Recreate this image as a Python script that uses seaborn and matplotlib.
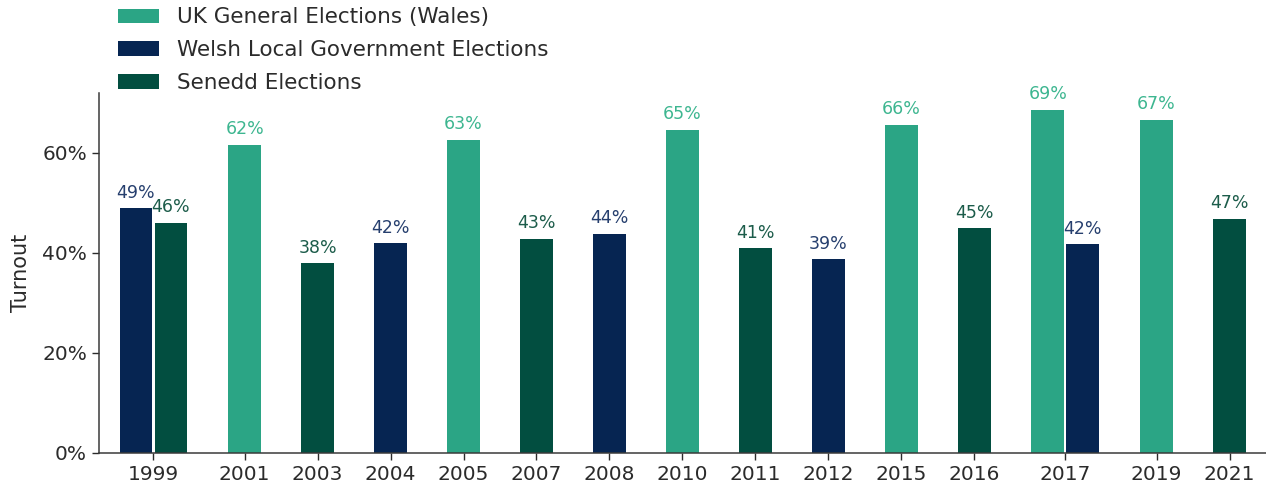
import numpy as np
import pandas as pd
import matplotlib
matplotlib.use("Agg")
import matplotlib.pyplot as plt
import matplotlib.ticker as mticker
import seaborn as sns

# ─── data ────────────────────────────────────────────────────────────────────
years = ["1999", "2001", "2003", "2004", "2005", "2007", "2008", "2010",
         "2011", "2012", "2015", "2016", "2017", "2019", "2021"]

series_names = ["UK General Elections (Wales)",
                "Welsh Local Government Elections",
                "Senedd Elections"]

uk_years = ["2001", "2005", "2010", "2015", "2017", "2019"]
uk_turnout = [61.6, 62.6, 64.7, 65.6, 68.6, 66.6]

local_years = ["1999", "2004", "2008", "2012", "2017"]
local_turnout = [48.9, 41.9, 43.8, 38.7, 41.7]

senedd_years = ["1999", "2003", "2007", "2011", "2016", "2021"]
senedd_turnout = [46.0, 37.9, 42.8, 40.9, 44.9, 46.8]

# ─── style ───────────────────────────────────────────────────────────────────
BAR_COLORS = {series_names[0]: "#2ba585",
              series_names[1]: "#062552",
              series_names[2]: "#024e40"}
LABEL_COLORS = {series_names[0]: "#3db690",
                series_names[1]: "#263f6e",
                series_names[2]: "#1c5c4a"}
INK = "#2b2b2b"

sns.set_theme(style="ticks")
plt.rcParams["font.family"] = ["DejaVu Sans"]

# ─── layout: one slot per bar-year, wider slot where two bars share a year ──
rows = []
for name, yrs, vals in [(series_names[0], uk_years, uk_turnout),
                        (series_names[1], local_years, local_turnout),
                        (series_names[2], senedd_years, senedd_turnout)]:
    for y, v in zip(yrs, vals):
        rows.append({"year": y, "series": name, "turnout": v})
df = pd.DataFrame(rows)
df["order"] = df["series"].map({n: i for i, n in enumerate(series_names)})
df = df.sort_values(["year", "order"]).reset_index(drop=True)

counts = df.groupby("year").size().reindex(years)
slot_w = np.where(counts.values > 1, 1.5, 1.0)
centers = np.cumsum(slot_w) - slot_w / 2
center_of = dict(zip(years, centers))

BAR_W = 0.45
OFFSET = 0.24
pos = []
for y, grp in df.groupby("year", sort=False):
    n = len(grp)
    offs = [0.0] if n == 1 else [-OFFSET, OFFSET]
    pos.extend(center_of[y] + o for o in offs)
df["pos"] = pos

native_w = np.diff(np.unique(df["pos"])).min()

# ─── plot ────────────────────────────────────────────────────────────────────
fig = plt.figure(figsize=(12.66, 4.87), dpi=100)
ax = fig.add_axes([0.078, 0.070, 0.922, 0.739])

sns.barplot(data=df, x="pos", y="turnout", hue="series",
            hue_order=series_names, palette=BAR_COLORS, saturation=1,
            native_scale=True, dodge=False, width=BAR_W / native_w,
            linewidth=0, ax=ax)

for cont, name in zip(ax.containers, series_names):
    ax.bar_label(cont, fmt="%.0f%%", padding=5, fontsize=12.5,
                 color=LABEL_COLORS[name])

ax.set_xlim(0, slot_w.sum())
ax.set_ylim(0, 72)
ax.set_xticks(centers)
ax.set_xticklabels(years)
ax.set_yticks([0, 20, 40, 60])
ax.yaxis.set_major_formatter(mticker.PercentFormatter(100, decimals=0))
ax.set_xlabel("")
ax.set_ylabel("Turnout", fontsize=15, color=INK, labelpad=8)
ax.tick_params(axis="both", labelsize=14.5, colors=INK, length=5, width=1)

sns.despine(ax=ax)
for s in ["left", "bottom"]:
    ax.spines[s].set_color("#3a3a3a")
    ax.spines[s].set_linewidth(1.1)

handles, labels = ax.get_legend_handles_labels()
ax.legend_.remove()
fig.legend(handles, labels, loc="upper left", bbox_to_anchor=(0.093, 0.985),
           frameon=False, fontsize=15.5, handlelength=1.9, handleheight=0.65,
           handletextpad=0.85, labelspacing=0.6, borderpad=0, borderaxespad=0,
           labelcolor=INK)

plt.savefig("out.png", dpi=100)
plt.close()
